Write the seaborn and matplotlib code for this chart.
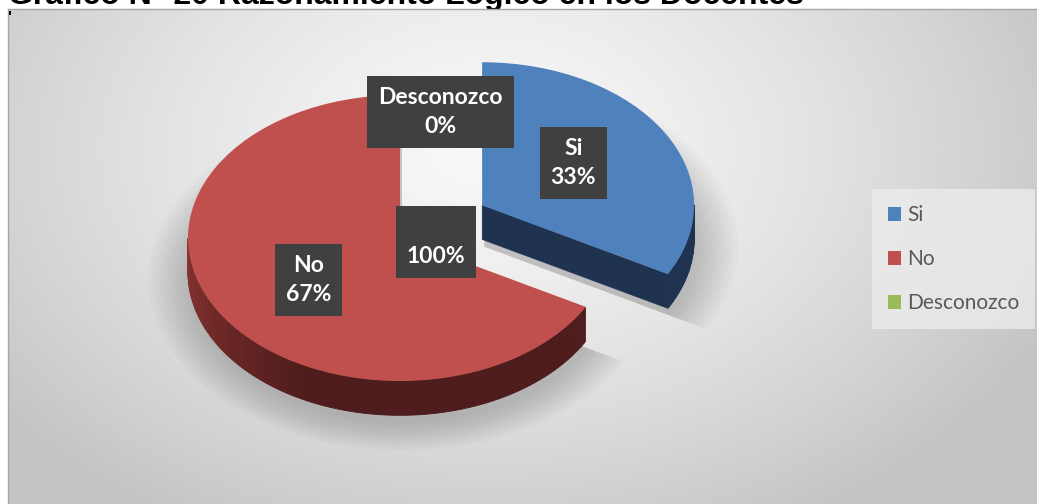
import numpy as np
import matplotlib
matplotlib.use("Agg")
import matplotlib.pyplot as plt
import matplotlib.colors as mcolors
from matplotlib.patches import Patch, Wedge, Rectangle
import seaborn as sns

# ---------------- DATA ----------------
categories = ["Si", "No", "Desconozco"]
percent = [33, 67, 0]
colors = ["#4F81BD", "#C0504D", "#9BBB59"]
side_colors = ["#1F3350", "#4E1C1C", "#3E4B24"]
total_label = "100%"
title = "Gráfico N° 20 Razonamiento Lógico en los Docentes"

sns.set_theme(style="white")
plt.rcParams["font.family"] = ["Lato", "DejaVu Sans"]

W, H = 1037, 504
fig = plt.figure(figsize=(W / 100, H / 100), dpi=100)
fig.patch.set_facecolor("white")

# title (partly hidden behind the chart area, as in the original)
fig.text(8 / W, 1 - 4 / H, title, fontsize=23, fontweight="bold",
         family="Liberation Sans", color="black", va="baseline", ha="left", zorder=-1)

# ---------------- BACKGROUND ----------------
bg = fig.add_axes([8 / W, 0, 1 - 8 / W, 1 - 9 / H])
yy, xx = np.mgrid[0:495, 0:1029]
d = np.sqrt(((xx - 480) / 620.0) ** 2 + ((yy - 140) / 430.0) ** 2)
t = np.clip(d, 0, 1) ** 1.4
c0 = np.array(mcolors.to_rgb("#f8f8f8"))
c1 = np.array(mcolors.to_rgb("#c4c4c4"))
img = c0[None, None, :] * (1 - t[..., None]) + c1[None, None, :] * t[..., None]
bg.imshow(img, aspect="auto", extent=(0, 1, 0, 1), origin="upper")
bg.set_xlim(0, 1)
bg.set_ylim(0, 1)
bg.set_xticks([])
bg.set_yticks([])
for s in ["right", "bottom"]:
    bg.spines[s].set_visible(False)
for s in ["top", "left"]:
    bg.spines[s].set_color("#a6a6a6")
    bg.spines[s].set_linewidth(1)
fig.patches.append(Rectangle((9 / W, 1 - 15 / H), 2 / W, 4 / H, transform=fig.transFigure,
                             facecolor="black", edgecolor="none", zorder=5))

# ---------------- PIE ----------------
ax = fig.add_axes([0, 0, 1, 1])
ax.patch.set_alpha(0)
depth = 0.24
wedges, _ = ax.pie(percent, colors=colors, startangle=90, counterclock=False,
                   explode=[0.45, 0, 0], radius=1,
                   wedgeprops=dict(linewidth=0, zorder=3))
ax.set_aspect("auto")
ax.set_xlim(-400 / 212, (W - 400) / 212)
ax.set_ylim(-(H - 238) / 143, 238 / 143)
ax.axis("off")


def side_shade(base, theta, light):
    rgb = np.array(mcolors.to_rgb(base))
    if not light:
        return rgb
    th = theta % 360
    k = np.clip((245 - th) / 65.0, 0, 1)  # lighter toward the left
    return rgb + (np.array(mcolors.to_rgb("#8A3431")) - rgb) * k


for i, w in enumerate(wedges):
    if percent[i] == 0:
        continue
    cx, cy = w.center
    t1, t2 = w.theta1, w.theta2
    # soft shadow under the slice
    for k in range(12):
        ax.add_patch(Wedge((cx + 0.01, cy - depth - 0.05), 1.0 + 0.018 * k, t1, t2,
                           facecolor="black", alpha=0.016, edgecolor="none", zorder=0.5))
    # visible cut faces
    for phi, vis in [(t1, np.cos(np.radians(t1)) > 1e-6), (t2, np.cos(np.radians(t2)) < -1e-6)]:
        if vis:
            ex, ey = cx + np.cos(np.radians(phi)), cy + np.sin(np.radians(phi))
            ax.fill([cx, ex, ex, cx], [cy, ey, ey - depth, cy - depth],
                    color=side_colors[i], lw=0.3, zorder=1)
    # outer side, front-facing part only
    angs = np.arange(t1, t2 + 0.5, 1.0)
    angs = np.clip(angs, t1, t2)
    for a0, a1 in zip(angs[:-1], angs[1:]):
        am = np.radians((a0 + a1) / 2)
        if np.sin(am) > 0:
            continue
        r0, r1 = np.radians(a0), np.radians(a1)
        xs = [cx + np.cos(r0), cx + np.cos(r1), cx + np.cos(r1), cx + np.cos(r0)]
        ys = [cy + np.sin(r0), cy + np.sin(r1), cy + np.sin(r1) - depth, cy + np.sin(r0) - depth]
        col = side_shade(side_colors[i], (a0 + a1) / 2, i == 1)
        ax.fill(xs, ys, color=col, lw=0.6, ec=col, zorder=1)

# ---------------- DATA LABELS ----------------
box = dict(boxstyle="square,pad=0.48", fc="#404040", ec="none")
lab_kw = dict(ha="center", va="center", color="white", fontsize=16.5,
              fontweight="bold", linespacing=1.45, bbox=box, zorder=6)
for i, w in enumerate(wedges):
    cx, cy = w.center
    mid = np.radians((w.theta1 + w.theta2) / 2)
    if percent[i] > 0:
        x, y = cx + 0.5 * np.cos(mid), cy + 0.58 * np.sin(mid)
    else:
        x, y = cx + 0.19, cy + 0.88
    ax.text(x, y, f"{categories[i]}\n{percent[i]}%", **lab_kw)
c_no = wedges[1].center
ax.text(c_no[0] + 0.17, c_no[1] - 0.03, "\n" + total_label, **lab_kw)

# ---------------- LEGEND ----------------
handles = [Patch(facecolor=c, edgecolor="none") for c in colors]
leg = fig.legend(handles, categories, loc="center left",
                 bbox_to_anchor=(872 / W, 1 - 259 / H), bbox_transform=fig.transFigure,
                 frameon=True, fontsize=15, handlelength=0.65, handleheight=0.65,
                 handletextpad=0.3, labelspacing=1.15, borderpad=0.75, fancybox=False,
                 borderaxespad=0)
leg.get_frame().set_facecolor("#ececec")
leg.get_frame().set_edgecolor("none")
for txt in leg.get_texts():
    txt.set_color("#595959")

fig.savefig("out.png", dpi=100)
